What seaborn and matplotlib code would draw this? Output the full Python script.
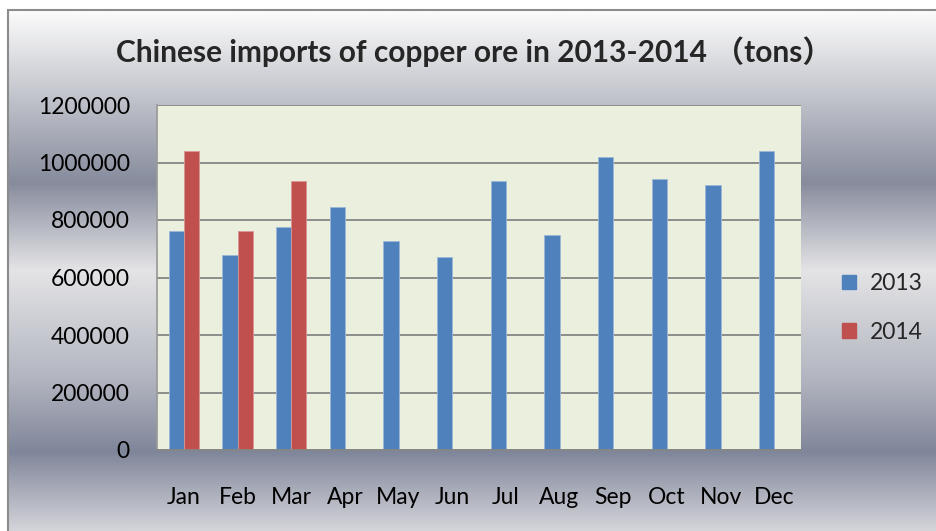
import numpy as np
import pandas as pd
import matplotlib
matplotlib.use("Agg")
import matplotlib.pyplot as plt
from matplotlib.colors import LinearSegmentedColormap
from matplotlib.patches import Rectangle
import seaborn as sns

# данные (тонны)
months = ["Jan", "Feb", "Mar", "Apr", "May", "Jun",
          "Jul", "Aug", "Sep", "Oct", "Nov", "Dec"]
imports_2013 = [762000, 678000, 776000, 844000, 727000, 671000,
                935000, 747000, 1018000, 942000, 921000, 1039000]
imports_2014 = [1039000, 762000, 935000]
years = ["2013", "2014"]
yticks = [0, 200000, 400000, 600000, 800000, 1000000, 1200000]

rows = []
for m, v in zip(months, imports_2013):
    rows.append({"month": m, "year": "2013", "tons": v})
for m, v in zip(months, imports_2014):
    rows.append({"month": m, "year": "2014", "tons": v})
df = pd.DataFrame(rows)

sns.set_theme(style="white")
plt.rcParams['font.family'] = ['Lato', 'Noto Sans CJK SC', 'DejaVu Sans']

fig = plt.figure(figsize=(9.36, 5.31), dpi=100)
fig.patch.set_facecolor("white")

# фон с вертикальным градиентом (стиль Excel)
bg = fig.add_axes([8 / 936, 0, 1 - 8 / 936, 1 - 10 / 531], zorder=-5)
stops = [(0.0, "#fbfbfb"), (0.09, "#dcdde1"), (0.33, "#878c9d"),
         (0.50, "#e4e4e6"), (0.71, "#b2b5c0"), (0.85, "#80869a"),
         (1.0, "#d3d4d9")]
cmap = LinearSegmentedColormap.from_list("bg", stops)
grad = np.linspace(0, 1, 400).reshape(-1, 1)
bg.imshow(grad, aspect="auto", cmap=cmap, extent=[0, 1, 0, 1], origin="upper")
bg.set_xlim(0, 1)
bg.set_ylim(0, 1)
bg.axis("off")
fig.patches.append(Rectangle((8 / 936, -0.01), 1.0, 1 - 10 / 531 + 0.01,
                             transform=fig.transFigure, fill=False,
                             edgecolor="#8c8c8c", linewidth=1.5, zorder=-4))

ax = fig.add_axes([157 / 936, 1 - 450 / 531, (801 - 157) / 936, (450 - 105) / 531])
ax.set_facecolor("#ebf0de")

palette = {"2013": "#4f81bd", "2014": "#c0504d"}
sns.barplot(data=df, x="month", y="tons", hue="year", order=months,
            hue_order=years, palette=palette, width=0.56, saturation=1,
            edgecolor="#9db7d8", linewidth=0.6, ax=ax, legend=False)
for p in ax.patches:
    if p.get_facecolor()[0] > 0.5:
        p.set_edgecolor("#d99694")

ax.set_ylim(0, 1200000)
ax.set_yticks(yticks)
ax.set_yticklabels([str(t) for t in yticks])
ax.yaxis.grid(True, color="#868686", linewidth=1.3)
ax.set_axisbelow(True)
ax.set_xlabel("")
ax.set_ylabel("")
for s in ["top", "right"]:
    ax.spines[s].set_visible(False)
ax.spines["left"].set_color("#9a9a9a")
ax.spines["bottom"].set_color("#868686")
ax.spines["bottom"].set_linewidth(1.3)
ax.tick_params(axis="y", labelsize=16.5, pad=19.5, length=0, colors="black")
ax.tick_params(axis="x", labelsize=16.5, pad=26.5, length=0, colors="black")

handles = [Rectangle((0, 0), 1, 1, color=palette[y]) for y in years]
fig.legend(handles, years, loc="center left", bbox_to_anchor=(842 / 936, 1 - 308 / 531),
           frameon=False, fontsize=16.5, handlelength=0.6, handleheight=0.6,
           handletextpad=0.6, labelspacing=1.2, borderpad=0, borderaxespad=0)

fig.text(474 / 936, 1 - 52 / 531, "Chinese imports of copper ore in 2013-2014 （tons）",
         ha="center", va="center", fontsize=21.5, fontweight="bold")

fig.savefig("out.png", dpi=100)
